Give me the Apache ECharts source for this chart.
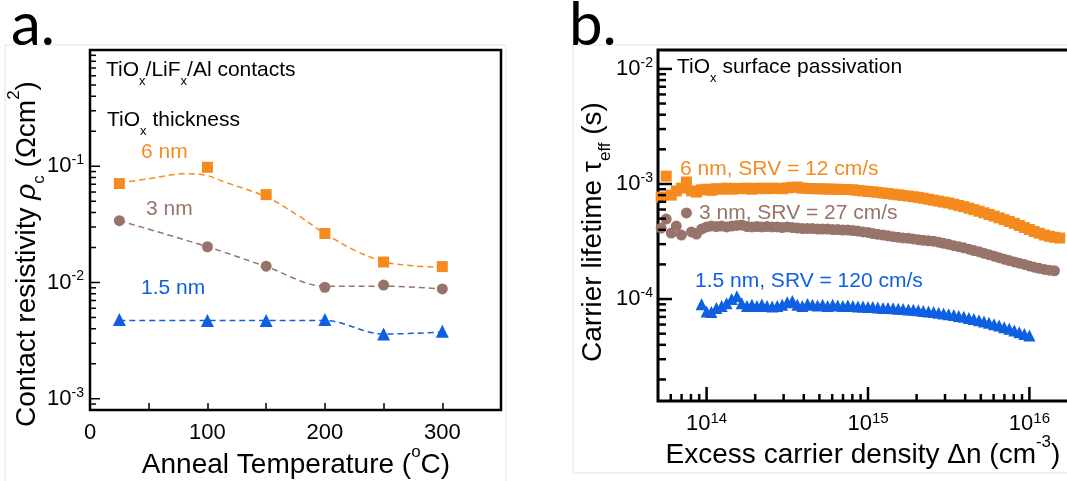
<!DOCTYPE html>
<html lang="en">
<head>
<meta charset="UTF-8">
<title>TiOx contacts / passivation</title>
<script src="https://cdn.jsdelivr.net/npm/echarts@6/dist/echarts.min.js"></script>
<style>
  html, body { margin: 0; padding: 0; background: #fff; }
  #chart { width: 1067px; height: 481px; }
</style>
</head>
<body>
<div id="chart"></div>
<script>
// ---------- panel a: contact resistivity vs anneal temperature ----------
const annealTemp = [25, 100, 150, 200, 250, 300];
const rho6nm  = [0.071, 0.098, 0.057, 0.0264, 0.015, 0.0137];
const rho3nm  = [0.034, 0.0203, 0.0138, 0.0091, 0.0095, 0.0088];
const rho15nm = [0.0048, 0.0047, 0.0047, 0.0048, 0.0036, 0.0038];
// dashed guide curves
const fitTemp6 = [25, 50, 80, 95, 115, 150, 175, 200, 225, 250, 275, 300];
const fit6nm   = [0.072, 0.078, 0.086, 0.085, 0.073, 0.0545, 0.039, 0.0264, 0.019, 0.0151, 0.0139, 0.0135];
const fit3nm   = [0.034, 0.0203, 0.0137, 0.0093, 0.0093, 0.0088];
const fit15nm  = [0.0047, 0.0047, 0.0047, 0.0047, 0.0036, 0.00375];
const rhoMajorTicks = [0.001, 0.01, 0.1];
const rhoMinorTicks = [0.0009, 0.002, 0.003, 0.004, 0.005, 0.006, 0.007, 0.008, 0.009,
  0.02, 0.03, 0.04, 0.05, 0.06, 0.07, 0.08, 0.09, 0.2, 0.3, 0.4, 0.5, 0.6, 0.7, 0.8, 0.9];

// ---------- panel b: lifetime vs excess carrier density ----------
const density = [
  5.23e13, 5.62e13, 6.04e13, 6.49e13, 6.98e13, 7.5e13, 8.06e13, 8.66e13, 9.31e13,
  1.0e14, 1.07e14, 1.15e14, 1.24e14, 1.33e14, 1.43e14, 1.54e14, 1.65e14, 1.78e14, 1.91e14,
  2.05e14, 2.2e14, 2.37e14, 2.55e14, 2.74e14, 2.94e14, 3.16e14, 3.4e14, 3.65e14, 3.92e14,
  4.22e14, 4.53e14, 4.87e14, 5.23e14, 5.62e14, 6.04e14, 6.49e14, 6.98e14, 7.5e14, 8.06e14, 8.66e14, 9.31e14,
  1.0e15, 1.07e15, 1.15e15, 1.24e15, 1.33e15, 1.43e15, 1.54e15, 1.65e15, 1.78e15, 1.91e15,
  2.05e15, 2.2e15, 2.37e15, 2.55e15, 2.74e15, 2.94e15, 3.16e15, 3.4e15, 3.65e15, 3.92e15,
  4.22e15, 4.53e15, 4.87e15, 5.23e15, 5.62e15, 6.04e15, 6.49e15, 6.98e15, 7.5e15, 8.06e15, 8.66e15, 9.31e15,
  1.0e16, 1.07e16, 1.15e16, 1.24e16, 1.33e16, 1.43e16, 1.54e16, 1.65e16];
const tau6nm = [
  7.7e-4, 1.17e-3, 8.0e-4, 8.7e-4, 9.2e-4, 1.04e-3, 8.7e-4, 8.5e-4, 8.9e-4,
  9.0e-4, 8.8e-4, 9.1e-4, 9.0e-4, 9.2e-4, 9.0e-4, 9.15e-4, 9.1e-4, 9.2e-4, 9.0e-4,
  9.15e-4, 9.2e-4, 9.1e-4, 9.2e-4, 9.15e-4, 9.1e-4, 9.25e-4, 9.35e-4, 9.4e-4, 9.2e-4,
  9.15e-4, 9.1e-4, 9.1e-4, 9.05e-4, 9.05e-4, 9.0e-4, 9.0e-4, 8.95e-4, 8.95e-4, 8.9e-4, 8.8e-4, 8.7e-4,
  8.6e-4, 8.55e-4, 8.45e-4, 8.35e-4, 8.25e-4, 8.15e-4, 8.05e-4, 7.95e-4, 7.86e-4, 7.75e-4,
  7.65e-4, 7.52e-4, 7.37e-4, 7.23e-4, 7.09e-4, 6.96e-4, 6.84e-4, 6.67e-4, 6.51e-4, 6.35e-4,
  6.16e-4, 5.98e-4, 5.8e-4, 5.62e-4, 5.43e-4, 5.26e-4, 5.08e-4, 4.9e-4, 4.72e-4, 4.55e-4, 4.36e-4, 4.18e-4,
  4.02e-4, 3.86e-4, 3.73e-4, 3.6e-4, 3.51e-4, 3.44e-4, 3.39e-4, null];
const tau3nm = [
  4.14e-4, 4.96e-4, 3.75e-4, 4.31e-4, 3.6e-4, 5.6e-4, 3.83e-4, 3.67e-4, 4.06e-4,
  4.23e-4, 4.31e-4, 4.27e-4, 4.31e-4, 4.23e-4, 4.31e-4, 4.36e-4, 4.4e-4, 4.27e-4, 4.23e-4,
  4.27e-4, 4.23e-4, 4.27e-4, 4.23e-4, 4.23e-4, 4.18e-4, 4.23e-4, 4.18e-4, 4.14e-4, 4.1e-4,
  4.1e-4, 4.1e-4, 4.06e-4, 4.06e-4, 4.06e-4, 4.02e-4, 4.02e-4, 3.98e-4, 3.98e-4, 3.94e-4, 3.9e-4, 3.83e-4,
  3.79e-4, 3.71e-4, 3.65e-4, 3.6e-4, 3.54e-4, 3.48e-4, 3.44e-4, 3.4e-4, 3.37e-4, 3.33e-4,
  3.28e-4, 3.24e-4, 3.21e-4, 3.18e-4, 3.12e-4, 3.05e-4, 2.99e-4, 2.91e-4, 2.85e-4, 2.79e-4,
  2.71e-4, 2.64e-4, 2.58e-4, 2.5e-4, 2.43e-4, 2.36e-4, 2.29e-4, 2.22e-4, 2.16e-4, 2.1e-4, 2.05e-4, 2.0e-4,
  1.94e-4, 1.89e-4, 1.85e-4, 1.81e-4, 1.78e-4, 1.76e-4, null, null];
const tau15nm = [
  null, null, null, null, null, null, null, null, 9.0e-5,
  7.8e-5, 7.7e-5, 8.35e-5, 8.7e-5, 9.2e-5, 1.0e-4, 1.06e-4, 9.2e-5, 8.7e-5, 8.9e-5,
  8.7e-5, 8.95e-5, 8.7e-5, 8.6e-5, 8.7e-5, 8.9e-5, 9.4e-5, 9.6e-5, 8.9e-5, 8.7e-5,
  9.05e-5, 8.9e-5, 8.8e-5, 8.9e-5, 8.7e-5, 8.9e-5, 8.8e-5, 8.7e-5, 8.8e-5, 8.7e-5, 8.6e-5, 8.6e-5,
  8.52e-5, 8.52e-5, 8.44e-5, 8.35e-5, 8.35e-5, 8.3e-5, 8.23e-5, 8.18e-5, 8.13e-5, 8.07e-5,
  7.98e-5, 7.89e-5, 7.79e-5, 7.7e-5, 7.59e-5, 7.49e-5, 7.38e-5, 7.26e-5, 7.14e-5, 7.0e-5,
  6.85e-5, 6.7e-5, 6.54e-5, 6.38e-5, 6.21e-5, 6.04e-5, 5.88e-5, 5.7e-5, 5.52e-5, 5.34e-5, 5.15e-5, 4.98e-5,
  4.82e-5, null, null, null, null, null, null, null];
const tauMajorTicks = [1e-4, 1e-3, 1e-2];
const tauMinorTicks = [2e-5, 3e-5, 4e-5, 5e-5, 6e-5, 7e-5, 8e-5, 9e-5,
  2e-4, 3e-4, 4e-4, 5e-4, 6e-4, 7e-4, 8e-4, 9e-4, 2e-3, 3e-3, 4e-3, 5e-3, 6e-3, 7e-3, 8e-3, 9e-3];
const densMajorTicks = [1e14, 1e15, 1e16];
const densMinorTicks = [6e13, 7e13, 8e13, 9e13, 2e14, 3e14, 4e14, 5e14, 6e14, 7e14, 8e14, 9e14,
  2e15, 3e15, 4e15, 5e15, 6e15, 7e15, 8e15, 9e15];

// axis ranges
const axisMin = [{ x: 0, y: 0.0008 }, { x: 5e13, y: 1.3e-5 }];
const axisMax = [{ x: 350, y: 1 }, { x: 2e16, y: 0.0146 }];

const FONT = '"Liberation Sans", Arial, Helvetica, sans-serif';
const ORANGE = '#f58b1f', BROWN = '#98736a', BLUE = '#0f5fe3';

function pairs(xs, ys) {
  return xs.map(function (x, i) { return [x, ys[i]]; }).filter(function (p) { return p[1] != null; });
}

// 10^n labels on log axes
function powLabel(v) {
  const lg = Math.log10(v);
  const e = Math.round(lg);
  if (Math.abs(lg - e) > 1e-6 || e === 0) return '';
  return '10{s|' + e + '}';
}

// tick marks drawn through the axis scale (major / minor lengths differ)
function tickSeries(g, values, onAxis, len, w) {
  return {
    type: 'custom', coordinateSystem: 'cartesian2d', xAxisIndex: g, yAxisIndex: g,
    silent: true, z: 6, animation: false,
    data: values.map(function (v) { return onAxis === 'y' ? [axisMin[g].x, v] : [v, axisMin[g].y]; }),
    renderItem: function (params, api) {
      const p = api.coord([api.value(0), api.value(1)]);
      const e = onAxis === 'y' ? [p[0] + len, p[1]] : [p[0], p[1] - len];
      return { type: 'line', shape: { x1: p[0], y1: p[1], x2: e[0], y2: e[1] },
        style: { stroke: '#000', lineWidth: w } };
    }
  };
}

function rich(size, color, lh) {
  const s = Math.round(size * 0.62);
  return {
    t: { fontSize: size, fontFamily: FONT, fill: color, lineHeight: lh },
    i: { fontSize: size, fontFamily: FONT, fill: color, lineHeight: lh, fontStyle: 'italic' },
    sub: { fontSize: s, fontFamily: FONT, fill: color, lineHeight: s, verticalAlign: 'bottom' },
    sup: { fontSize: s, fontFamily: FONT, fill: color, lineHeight: s, verticalAlign: 'top' }
  };
}

function text(x, y, str, size, color, align, rot) {
  return {
    type: 'text', x: x, y: y, rotation: rot || 0, silent: true, z: 10,
    style: { text: str, rich: rich(size, color, size + 14), fontSize: size, fontFamily: FONT,
      fill: color, align: align || 'left', verticalAlign: 'middle' }
  };
}

function frame(x1, y1, x2, y2) {
  return { type: 'line', silent: true, shape: { x1: x1, y1: y1, x2: x2, y2: y2 },
    style: { stroke: '#e4e4e4', lineWidth: 1 } };
}

function logLabel(margin, supSize) {
  return {
    fontSize: 22, fontFamily: FONT, color: '#000', lineHeight: 26, margin: margin,
    formatter: powLabel,
    rich: { s: { fontSize: supSize, fontFamily: FONT, color: '#000', lineHeight: supSize, verticalAlign: 'top' } }
  };
}

const chart = echarts.init(document.getElementById('chart'));
const option = {
  animation: false,
  backgroundColor: '#fff',
  grid: [
    { left: 90, top: 50, width: 411, height: 360, show: true, borderColor: '#000', borderWidth: 2.5,
      backgroundColor: 'transparent', containLabel: false, outerBoundsMode: 'none' },
    { left: 658, top: 50, width: 420, height: 351, show: true, borderColor: '#000', borderWidth: 3,
      backgroundColor: 'transparent', containLabel: false, outerBoundsMode: 'none' }
  ],
  xAxis: [
    {
      gridIndex: 0, type: 'value', min: axisMin[0].x, max: axisMax[0].x, interval: 50,
      axisLine: { show: false }, splitLine: { show: false },
      axisTick: { show: true, inside: true, length: 7, lineStyle: { color: '#000', width: 1.5 } },
      axisLabel: { fontSize: 22, fontFamily: FONT, color: '#000', margin: 12,
        formatter: function (v) { return (v % 100 === 0 && v <= 300) ? String(v) : ''; } }
    },
    {
      gridIndex: 1, type: 'log', min: axisMin[1].x, max: axisMax[1].x,
      axisLine: { show: false }, splitLine: { show: false }, axisTick: { show: false },
      axisLabel: logLabel(10, 15)
    }
  ],
  yAxis: [
    {
      gridIndex: 0, type: 'log', min: axisMin[0].y, max: axisMax[0].y,
      axisLine: { show: false }, splitLine: { show: false }, axisTick: { show: false },
      axisLabel: logLabel(6, 14)
    },
    {
      gridIndex: 1, type: 'log', min: axisMin[1].y, max: axisMax[1].y,
      axisLine: { show: false }, splitLine: { show: false }, axisTick: { show: false },
      axisLabel: logLabel(5, 14)
    }
  ],
  series: [
    // panel a guide curves
    { type: 'line', xAxisIndex: 0, yAxisIndex: 0, data: pairs(fitTemp6, fit6nm), smooth: 0.35, symbol: 'none',
      lineStyle: { color: ORANGE, width: 1.5, type: [6, 4] }, silent: true },
    { type: 'line', xAxisIndex: 0, yAxisIndex: 0, data: pairs(annealTemp, fit3nm), smooth: 0.35, symbol: 'none',
      lineStyle: { color: BROWN, width: 1.5, type: [6, 4] }, silent: true },
    { type: 'line', xAxisIndex: 0, yAxisIndex: 0, data: pairs(annealTemp, fit15nm), smooth: 0.35, symbol: 'none',
      lineStyle: { color: BLUE, width: 1.5, type: [6, 4] }, silent: true },
    // panel a measured points
    { type: 'scatter', xAxisIndex: 0, yAxisIndex: 0, data: pairs(annealTemp, rho6nm), symbol: 'rect', symbolSize: 11,
      itemStyle: { color: ORANGE, opacity: 1 } },
    { type: 'scatter', xAxisIndex: 0, yAxisIndex: 0, data: pairs(annealTemp, rho3nm), symbol: 'circle', symbolSize: 11,
      itemStyle: { color: BROWN, opacity: 1 } },
    { type: 'scatter', xAxisIndex: 0, yAxisIndex: 0, data: pairs(annealTemp, rho15nm), symbol: 'triangle', symbolSize: 13,
      itemStyle: { color: BLUE, opacity: 1 } },
    // panel b lifetime curves
    { type: 'scatter', xAxisIndex: 1, yAxisIndex: 1, data: pairs(density, tau15nm), symbol: 'triangle', symbolSize: 12,
      itemStyle: { color: BLUE, opacity: 1 } },
    { type: 'scatter', xAxisIndex: 1, yAxisIndex: 1, data: pairs(density, tau3nm), symbol: 'circle', symbolSize: 11,
      itemStyle: { color: BROWN, opacity: 1 } },
    { type: 'scatter', xAxisIndex: 1, yAxisIndex: 1, data: pairs(density, tau6nm), symbol: 'rect', symbolSize: 11,
      itemStyle: { color: ORANGE, opacity: 1 } },
    // tick marks
    tickSeries(0, rhoMajorTicks, 'y', 10, 1.5),
    tickSeries(0, rhoMinorTicks, 'y', 6, 1.5),
    tickSeries(1, tauMajorTicks, 'y', 14, 2.5),
    tickSeries(1, tauMinorTicks, 'y', 8, 2.5),
    tickSeries(1, densMajorTicks, 'x', 14, 2.5),
    tickSeries(1, densMinorTicks, 'x', 7, 2.5)
  ],
  graphic: [
    frame(5, 45, 506, 45), frame(5, 45, 5, 481), frame(506, 45, 506, 481),
    frame(573, 45, 1067, 45), frame(573, 45, 573, 473), frame(573, 473, 1067, 473),
    { type: 'text', x: 11, y: 26, silent: true, z: 10,
      style: { text: 'a.', fontSize: 60, fontFamily: 'Lato, "Open Sans", sans-serif', fill: '#000', verticalAlign: 'middle' } },
    { type: 'text', x: 569, y: 26, silent: true, z: 10,
      style: { text: 'b.', fontSize: 60, fontFamily: 'Lato, "Open Sans", sans-serif', fill: '#000', verticalAlign: 'middle' } },
    // panel a annotations
    text(106, 70, '{t|TiO}{sub|x}{t|/LiF}{sub|x}{t|/Al contacts}', 21, '#000'),
    text(107, 120, '{t|TiO}{sub|x}{t| thickness}', 21, '#000'),
    text(141, 152, '{t|6 nm}', 21, ORANGE),
    text(146, 209, '{t|3 nm}', 21, BROWN),
    text(141, 288, '{t|1.5 nm}', 21, BLUE),
    // panel b annotations
    text(677, 67, '{t|TiO}{sub|x}{t| surface passivation}', 21, '#000'),
    text(680, 169, '{t|6 nm, SRV = 12 cm/s}', 21, ORANGE),
    text(699, 213, '{t|3 nm, SRV = 27 cm/s}', 21, BROWN),
    text(695, 281, '{t|1.5 nm, SRV = 120 cm/s}', 21, BLUE),
    // axis titles
    text(296, 465, '{t|Anneal Temperature (}{sup|o}{t|C)}', 28, '#000', 'center'),
    text(27, 254, '{t|Contact resistivity }{i|ρ}{sub|c}{t| (Ωcm}{sup|2}{t|)}', 28, '#000', 'center', Math.PI / 2),
    text(863, 455, '{t|Excess carrier density Δn (cm}{sup|-3}{t|)}', 28, '#000', 'center'),
    text(593, 232, '{t|Carrier lifetime τ}{sub|eff}{t| (s)}', 28, '#000', 'center', Math.PI / 2)
  ]
};
chart.setOption(option);
</script>
</body>
</html>
